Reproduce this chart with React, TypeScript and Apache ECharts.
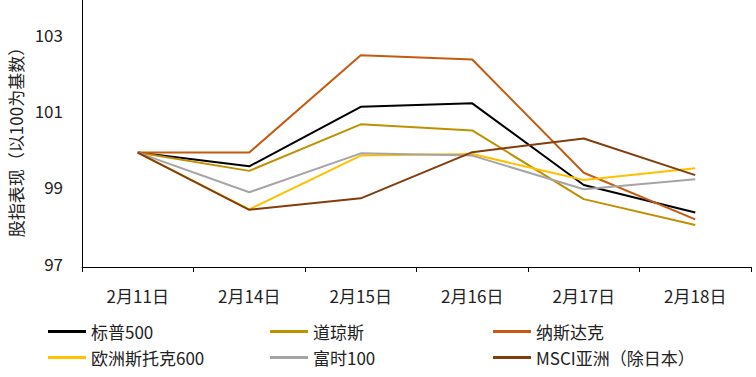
import React, { useEffect, useRef } from "react";
import * as echarts from "echarts";

const dates = ["2月11日", "2月14日", "2月15日", "2月16日", "2月17日", "2月18日"];
const sp500 = [100, 99.64, 101.2, 101.29, 99.15, 98.43];
const dow = [100, 99.52, 100.74, 100.58, 98.78, 98.1];
const nasdaq = [100, 100.0, 102.55, 102.44, 99.47, 98.25];
const stoxx600 = [100, 98.51, 99.92, 99.96, 99.28, 99.59];
const ftse100 = [100, 98.96, 99.98, 99.92, 99.04, 99.3];
const msciAsia = [100, 98.5, 98.8, 100.01, 100.37, 99.41];
const yTicks = [97, 99, 101, 103];

const seriesDefs = [
  { name: "标普500", data: sp500, color: "#000000" },
  { name: "道琼斯", data: dow, color: "#BF9000" },
  { name: "纳斯达克", data: nasdaq, color: "#C55A11" },
  { name: "欧洲斯托克600", data: stoxx600, color: "#FFC000" },
  { name: "富时100", data: ftse100, color: "#A5A5A5" },
  { name: "MSCI亚洲（除日本）", data: msciAsia, color: "#843C0C" },
];

const FONT = "'Noto Sans CJK SC', 'Noto Sans', sans-serif";

export default function App() {
  const ref = useRef<HTMLDivElement>(null);
  useEffect(() => {
    if (!ref.current) return;
    const chart = echarts.init(ref.current, undefined, { renderer: "svg" });
    const legendPos = [
      [48, 323],
      [270, 323],
      [493, 323],
      [48, 349],
      [270, 349],
      [493, 349],
    ];
    chart.setOption({
      animation: false,
      textStyle: { fontFamily: FONT },
      grid: { left: 82, right: 5, top: 0, bottom: 110, containLabel: false },
      xAxis: {
        type: "category",
        data: dates,
        boundaryGap: true,
        axisLine: { lineStyle: { color: "#000", width: 1 } },
        axisTick: { show: true, length: 5, lineStyle: { color: "#000" } },
        axisLabel: { color: "#222", fontSize: 17, margin: 20, fontFamily: FONT },
      },
      yAxis: {
        type: "value",
        min: yTicks[0],
        max: 104,
        interval: 2,
        axisLine: { show: true, lineStyle: { color: "#000", width: 1 } },
        axisTick: { show: false },
        splitLine: { show: false },
        axisLabel: {
          color: "#222",
          fontSize: 17,
          margin: 19,
          verticalAlign: "bottom",
          lineHeight: 8,
          fontFamily: FONT,
          formatter: (v: number) => (yTicks.includes(v) ? String(v) : ""),
        },
      },
      legend: seriesDefs.map((s, i) => ({
        data: [s.name],
        left: legendPos[i][0],
        top: legendPos[i][1],
        icon: "rect",
        itemWidth: 38,
        itemHeight: 3,
        itemGap: 6,
        textStyle: { fontSize: 17, color: "#222", fontFamily: FONT, padding: [0, 0, 0, 0] },
        padding: 0,
      })),
      graphic: [
        {
          type: "text",
          x: 15,
          y: 138,
          rotation: Math.PI / 2,
          style: {
            text: "股指表现（以100为基数）",
            fontSize: 17,
            fontFamily: FONT,
            fill: "#222",
            align: "center",
            verticalAlign: "middle",
          },
        },
      ],
      series: seriesDefs.map((s) => ({
        name: s.name,
        type: "line",
        data: s.data,
        symbol: "none",
        showSymbol: false,
        lineStyle: { color: s.color, width: 2 },
        itemStyle: { color: s.color },
        emphasis: { disabled: true },
      })),
    });
    return () => chart.dispose();
  }, []);
  return <div ref={ref} style={{ width: 756, height: 377, position: "absolute", left: 0, top: 0 }} />;
}
